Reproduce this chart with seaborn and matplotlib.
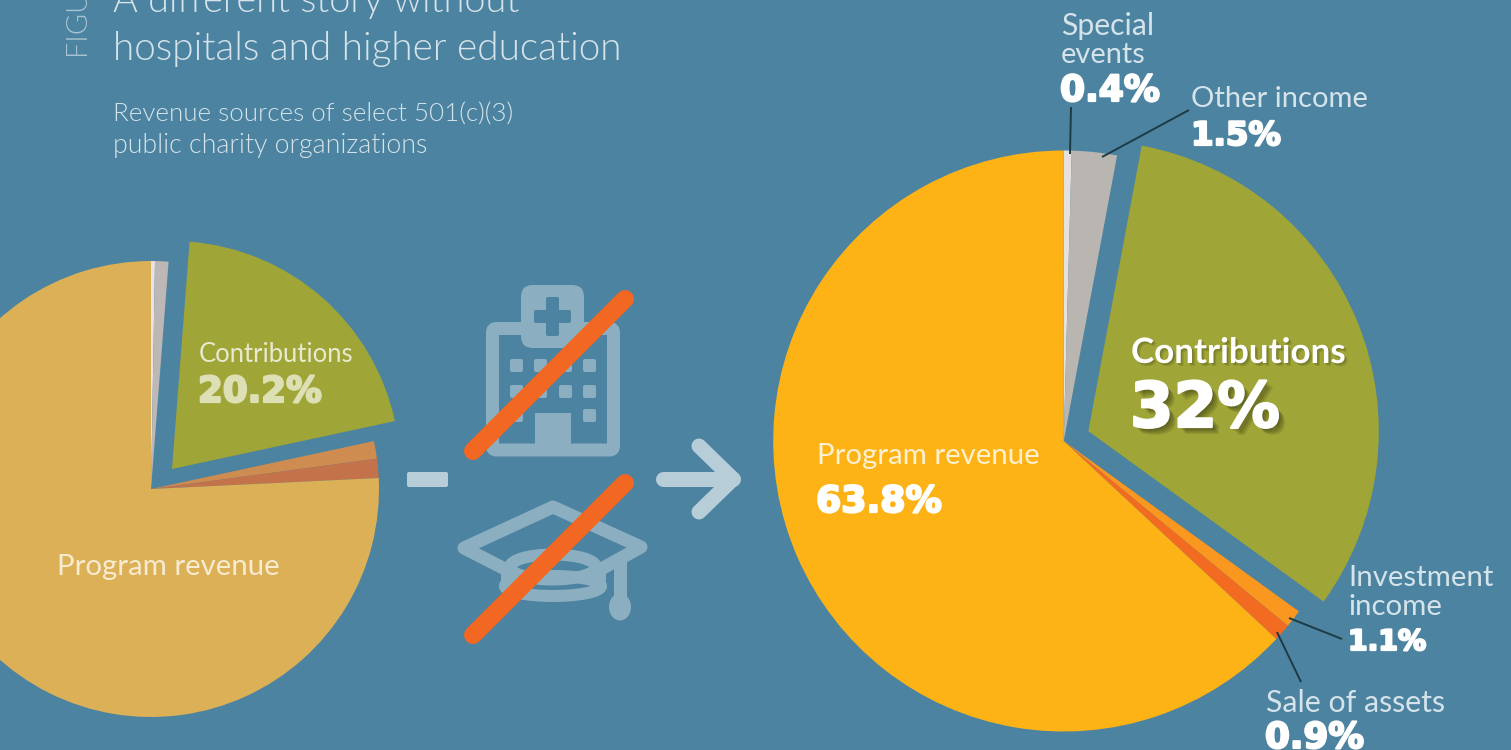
import matplotlib
matplotlib.use("Agg")
import matplotlib.pyplot as plt
import matplotlib.patheffects as pe
from matplotlib.patches import FancyBboxPatch, Ellipse, Rectangle
import seaborn as sns

# ---- data ----
categories = ["Special events", "Other income", "Contributions",
              "Investment income", "Sale of assets", "Program revenue"]
right_shares = [0.44, 2.5, 32.0, 1.0, 0.95, 63.0]      # wedge sizes as drawn
left_shares = [0.28, 0.95, 20.4, 1.25, 1.35, 75.77]    # wedge sizes as drawn
right_labels = ["0.4%", "1.5%", "32%", "1.1%", "0.9%", "63.8%"]
left_label = "20.2%"
title_lines = ["A different story without", "hospitals and higher education"]
subtitle_lines = ["Revenue sources of select 501(c)(3)", "public charity organizations"]
figure_tag = "FIGURE 1"

BG = "#4C83A0"
right_colors = sns.color_palette(["#E6E0DF", "#B9B5B1", "#9FA536", "#F9971E", "#F36B21", "#FDB316"])
left_colors = sns.color_palette(["#E8E4E3", "#BDB7B5", "#9FA536", "#CE8C50", "#C4724A", "#DCB056"])
LIGHT = "#D5E3EA"
ICON = "#8BAEC0"
ICON2 = "#B7CDD8"
SLASH = "#F26722"
LEADER = "#1E3A42"

sns.set_theme(style="white", rc={"figure.facecolor": BG, "savefig.facecolor": BG})
plt.rcParams["font.family"] = ["Lato", "DejaVu Sans"]

W, H = 1511, 750
fig = plt.figure(figsize=(W / 100, H / 100), dpi=100, facecolor=BG)

# pies: y axis points up
ax = fig.add_axes([0, 0, 1, 1])
ax.patch.set_alpha(0)
ax.pie(right_shares, colors=right_colors, center=(1063.7, H - 441), radius=290.5,
       startangle=90, counterclock=False, explode=[0, 0, 26.5, 0, 0, 0], frame=True,
       wedgeprops={"linewidth": 0})
left_wedges, _ = ax.pie(left_shares, colors=left_colors, center=(151, H - 489), radius=228,
                        startangle=90, counterclock=False, explode=[0, 0, 29, 0, 0, 0], frame=True,
                        wedgeprops={"linewidth": 0})
left_wedges[2].set_center((172, H - 469))
ax.set_xlim(0, W)
ax.set_ylim(0, H)
ax.axis("off")

# overlay in image pixel coordinates
ov = fig.add_axes([0, 0, 1, 1])
ov.set_xlim(0, W)
ov.set_ylim(H, 0)
ov.axis("off")
ov.patch.set_alpha(0)
PX = 0.72


def rrect(x0, y0, x1, y1, r, fc, ec="none", lw=0, z=3):
    ov.add_patch(FancyBboxPatch((x0, y0), x1 - x0, y1 - y0,
                                boxstyle=f"round,pad=0,rounding_size={r}",
                                fc=fc, ec=ec, lw=lw * PX, zorder=z))


def stroke(xs, ys, color, w, z=3):
    ov.plot(xs, ys, color=color, lw=w * PX, solid_capstyle="round",
            solid_joinstyle="round", zorder=z)


# hospital icon
rrect(492.5, 328.5, 613.5, 450, 4, "none", ICON, 13)
rrect(521, 285, 584, 348, 12, ICON)
rrect(546, 297, 559, 336, 2, BG, z=4)
rrect(534, 310, 571, 323, 2, BG, z=4)
for wx, wy in [(510, 359), (534, 359), (559, 359), (583, 359),
               (510, 385), (534, 385), (559, 385), (583, 385),
               (510, 409), (583, 409)]:
    rrect(wx, wy, wx + 13, wy + 13, 2, ICON)
ov.add_patch(Rectangle((535, 413), 36, 32, fc=ICON, ec="none", zorder=3))

# graduation cap icon
stroke([503, 464, 553, 641, 603], [568, 548, 507, 547, 568], ICON, 13)
ov.add_patch(Ellipse((553, 567), 86, 25, fc="none", ec=ICON, lw=12 * PX, zorder=3))
ov.add_patch(Ellipse((553, 586), 96, 20, fc="none", ec=ICON, lw=12 * PX, zorder=3))
stroke([507, 507], [570, 586], ICON, 12)
stroke([600, 600], [570, 586], ICON, 12)
stroke([620, 620], [560, 600], ICON, 13)
ov.add_patch(Ellipse((620, 607), 22, 27, fc=ICON, ec="none", zorder=3))

# crossing-out strokes, minus, arrow
stroke([473, 625], [451, 299], SLASH, 18, z=5)
stroke([473, 625], [635, 483], SLASH, 18, z=5)
rrect(407, 472, 448, 487, 2, ICON2)
stroke([663, 733], [479, 479], ICON2, 15)
stroke([699, 733, 699], [446, 479, 512], ICON2, 15)


# text helpers
def fit(x, y, s, width, color, family=("Lato", "DejaVu Sans"), weight=400,
        effects=None, rotation=0):
    t = ov.text(x, y, s, color=color, family=list(family), fontweight=weight, fontsize=20,
                ha="left", va="baseline", zorder=6, rotation=rotation,
                rotation_mode="anchor", clip_on=False)
    r = fig.canvas.get_renderer()
    box = t.get_window_extent(r)
    size = box.height if rotation else box.width
    t.set_fontsize(20 * width / size)
    if effects:
        t.set_path_effects(effects)
    return t


def heavy(x, y, s, width, color="white", extra=()):
    # bold numerals, thickened by an outline of the same colour
    fx = list(extra) + [pe.withStroke(linewidth=1.6, foreground=color)]
    return fit(x, y, s, width, color, family=("DejaVu Sans",), weight="bold", effects=fx)


def soft_shadow(n, alpha):
    return [pe.SimplePatchShadow(offset=(i, -i), shadow_rgbFace="black", alpha=alpha)
            for i in range(n, 0, -1)] + [pe.Normal()]


# header
fit(113, 12, title_lines[0], 408, LIGHT, weight=300)
fit(113, 60, title_lines[1], 510, LIGHT, weight=300)
fit(113, 122, subtitle_lines[0], 401, LIGHT, weight=300)
fit(113, 153, subtitle_lines[1], 314, LIGHT, weight=300)
fit(88, 58, figure_tag, 125, "#A9C4D3", weight=300, rotation=90)

# right pie labels
fit(1061, 35, "Special", 93, LIGHT)
fit(1061, 63, "events", 85, LIGHT)
heavy(1060, 101, right_labels[0], 100)
fit(1191, 107, "Other income", 177, LIGHT)
heavy(1191, 145, right_labels[1], 90)
fit(1131, 363, "Contributions", 215, "white", weight="bold", effects=soft_shadow(2, 0.12))
heavy(1130, 427, right_labels[2], 150, extra=soft_shadow(5, 0.1)[:-1])
fit(1348, 586, "Investment", 146, LIGHT)
fit(1348, 615, "income", 94, LIGHT)
heavy(1348, 650, right_labels[3], 78)
fit(1266, 712, "Sale of assets", 180, LIGHT)
heavy(1265, 748, right_labels[4], 99)
fit(817, 464, "Program revenue", 223, "#FFF1CF")
heavy(816, 512, right_labels[5], 126)

# left pie labels
fit(199, 362, "Contributions", 155, "#E8EAD0")
heavy(198, 402, left_label, 124, "#DDE0B5")
fit(57, 575, "Program revenue", 223, "#F8EBCF")

# leader lines
for xs, ys in [([1071, 1070], [107, 154]), ([1189, 1102], [110, 157]),
               ([1342, 1289], [639, 618]), ([1301, 1277], [682, 632])]:
    ov.plot(xs, ys, color=LEADER, lw=1.6 * PX * 1.2, solid_capstyle="butt", zorder=5)

fig.savefig("out.png", dpi=100, facecolor=BG)
